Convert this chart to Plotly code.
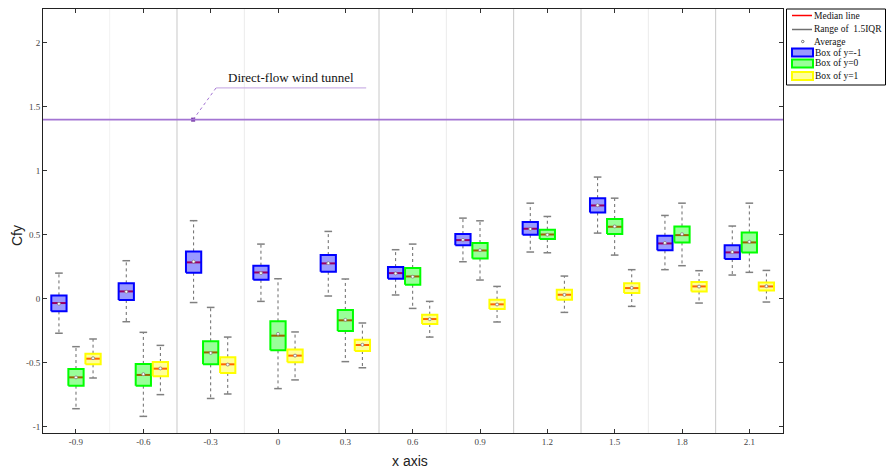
import plotly.graph_objects as go

# ---------------- data ----------------
x_cats = [-0.9, -0.6, -0.3, 0.0, 0.3, 0.6, 0.9, 1.2, 1.5, 1.8, 2.1]
x_labels = ["-0.9", "-0.6", "-0.3", "0", "0.3", "0.6", "0.9", "1.2", "1.5", "1.8", "2.1"]

# y = -1 (blue)
bm1_hi  = [0.20, 0.297, 0.61, 0.427, 0.526, 0.383, 0.63, 0.747, 0.951, 0.651, 0.568]
bm1_q3  = [0.026, 0.12, 0.37, 0.258, 0.341, 0.247, 0.505, 0.599, 0.786, 0.492, 0.417]
bm1_med = [-0.034, 0.057, 0.284, 0.205, 0.276, 0.20, 0.458, 0.547, 0.729, 0.432, 0.362]
bm1_q1  = [-0.099, -0.01, 0.203, 0.148, 0.211, 0.156, 0.417, 0.50, 0.674, 0.378, 0.31]
bm1_lo  = [-0.27, -0.18, -0.03, -0.021, 0.021, 0.029, 0.289, 0.365, 0.513, 0.227, 0.185]
bm1_avg = [-0.040, 0.055, 0.290, 0.200, 0.278, 0.198, 0.460, 0.545, 0.730, 0.436, 0.365]

# y = 0 (green)
b0_hi  = [-0.375, -0.263, -0.068, 0.156, 0.154, 0.427, 0.609, 0.643, 0.786, 0.747, 0.747]
b0_q3  = [-0.55, -0.51, -0.333, -0.177, -0.088, 0.24, 0.435, 0.539, 0.623, 0.565, 0.518]
b0_med = [-0.615, -0.596, -0.42, -0.289, -0.169, 0.174, 0.377, 0.502, 0.5625, 0.497, 0.44]
b0_q1  = [-0.68, -0.68, -0.513, -0.404, -0.253, 0.109, 0.315, 0.466, 0.505, 0.44, 0.362]
b0_lo  = [-0.86, -0.92, -0.78, -0.703, -0.492, -0.076, 0.146, 0.359, 0.341, 0.258, 0.206]
b0_avg = [-0.615, -0.590, -0.425, -0.275, -0.165, 0.172, 0.380, 0.500, 0.565, 0.505, 0.445]

# y = 1 (yellow)
b1_hi  = [-0.315, -0.365, -0.30, -0.26, -0.19, -0.021, 0.096, 0.177, 0.227, 0.219, 0.221]
b1_q3  = [-0.43, -0.495, -0.458, -0.398, -0.32, -0.125, -0.008, 0.07, 0.12, 0.13, 0.127]
b1_med = [-0.469, -0.547, -0.513, -0.445, -0.362, -0.159, -0.044, 0.031, 0.083, 0.096, 0.096]
b1_q1  = [-0.513, -0.607, -0.58, -0.497, -0.409, -0.198, -0.081, -0.008, 0.044, 0.057, 0.065]
b1_lo  = [-0.62, -0.75, -0.745, -0.635, -0.54, -0.30, -0.182, -0.107, -0.06, -0.034, -0.026]
b1_avg = [-0.465, -0.545, -0.515, -0.445, -0.360, -0.160, -0.045, 0.030, 0.085, 0.095, 0.098]

tunnel_value = 1.4
tunnel_label = "Direct-flow wind tunnel"

series = [
    dict(name="Box of y=-1", hi=bm1_hi, q3=bm1_q3, med=bm1_med, q1=bm1_q1, lo=bm1_lo, avg=bm1_avg,
         offset=-0.076, line="#0000FF", fill="rgba(0,0,255,0.40)"),
    dict(name="Box of y=0", hi=b0_hi, q3=b0_q3, med=b0_med, q1=b0_q1, lo=b0_lo, avg=b0_avg,
         offset=0.0, line="#00FF00", fill="rgba(0,255,0,0.40)"),
    dict(name="Box of y=1", hi=b1_hi, q3=b1_q3, med=b1_med, q1=b1_q1, lo=b1_lo, avg=b1_avg,
         offset=0.076, line="#FFFF00", fill="rgba(255,255,0,0.40)"),
]

BOX_W = 0.068
CAP_W = 0.034
SERIF = "Liberation Serif, Times New Roman, serif"
SANS = "Liberation Sans, Arial, sans-serif"

fig = go.Figure()

for s in series:
    wx, wy, cx, cy, mx, my, bx, by, ax, ay = [], [], [], [], [], [], [], [], [], []
    for i, c in enumerate(x_cats):
        xc = c + s["offset"]
        wx += [xc, xc, None, xc, xc, None]
        wy += [s["q3"][i], s["hi"][i], None, s["q1"][i], s["lo"][i], None]
        cx += [xc - CAP_W / 2, xc + CAP_W / 2, None, xc - CAP_W / 2, xc + CAP_W / 2, None]
        cy += [s["hi"][i], s["hi"][i], None, s["lo"][i], s["lo"][i], None]
        mx += [xc - BOX_W / 2, xc + BOX_W / 2, None]
        my += [s["med"][i], s["med"][i], None]
        bx += [xc - BOX_W / 2, xc + BOX_W / 2, xc + BOX_W / 2, xc - BOX_W / 2, xc - BOX_W / 2, None]
        by += [s["q1"][i], s["q1"][i], s["q3"][i], s["q3"][i], s["q1"][i], None]
        ax.append(xc)
        ay.append(s["avg"][i])
    fig.add_trace(go.Scatter(x=wx, y=wy, mode="lines", showlegend=False, hoverinfo="skip",
                             line=dict(color="#6A6A6A", width=1, dash="dot")))
    fig.add_trace(go.Scatter(x=cx, y=cy, mode="lines", showlegend=False, hoverinfo="skip",
                             line=dict(color="#808080", width=1.5)))
    fig.add_trace(go.Scatter(x=mx, y=my, mode="lines", showlegend=False, hoverinfo="skip",
                             line=dict(color="#FF0000", width=2)))
    fig.add_trace(go.Scatter(x=bx, y=by, mode="lines", fill="toself", fillcolor=s["fill"],
                             showlegend=False, name=s["name"],
                             line=dict(color=s["line"], width=2)))
    fig.add_trace(go.Scatter(x=ax, y=ay, mode="markers", showlegend=False,
                             marker=dict(symbol="circle", size=3, color="white",
                                         line=dict(color="#808080", width=0.8))))

# ---------------- separators ----------------
sep_x = [-0.75, -0.45, -0.15, 0.45, 0.75, 1.05, 1.35, 1.65, 1.95]
sep_c = ["#F2F2F2", "#C8C8C8", "#EBEBEB", "#C8C8C8", "#EBEBEB", "#C8C8C8", "#C8C8C8", "#EBEBEB", "#C8C8C8"]
shapes = []
for xs, cc in zip(sep_x, sep_c):
    shapes.append(dict(type="line", xref="x", yref="paper", x0=xs, x1=xs, y0=0, y1=1,
                       line=dict(color=cc, width=1), layer="below"))

PURPLE = "#A374D3"
shapes.append(dict(type="line", xref="paper", yref="y", x0=0, x1=1, y0=tunnel_value, y1=tunnel_value,
                   line=dict(color=PURPLE, width=1.6)))
arrow_tip_x, knee_x, end_x, knee_y = -0.378, -0.276, 0.393, 1.648
shapes.append(dict(type="line", xref="x", yref="y", x0=arrow_tip_x, y0=tunnel_value, x1=knee_x, y1=knee_y,
                   line=dict(color=PURPLE, width=1, dash="dot")))
shapes.append(dict(type="line", xref="x", yref="y", x0=knee_x, y0=knee_y, x1=end_x, y1=knee_y,
                   line=dict(color="#C0A0E0", width=1)))
fig.add_trace(go.Scatter(x=[arrow_tip_x], y=[tunnel_value], mode="markers", showlegend=False,
                         marker=dict(symbol="square", size=4, color="#7030A0")))

annotations = [dict(x=(knee_x + end_x) / 2, y=1.73, xref="x", yref="y", text=tunnel_label,
                    showarrow=False, font=dict(family=SERIF, size=13, color="#111"))]

# ---------------- manual legend ----------------
W, H = 886, 470
ML, MR, MT, MB = 43, 103, 9, 37
PW, PH = W - ML - MR, H - MT - MB


def px(x):
    return (x - ML) / PW


def py(y):
    return (H - MB - y) / PH


shapes.append(dict(type="rect", xref="paper", yref="paper", x0=px(786.5), x1=px(885.5), y0=py(85), y1=py(9),
                   line=dict(color="#000", width=1), fillcolor="white"))
legend_rows = [
    ("Median line", 15.5, "line", "#FF0000", None),
    ("Range of  1.5IQR", 29.5, "line", "#707070", None),
    ("Average", 41.5, "dot", "#707070", None),
    ("Box of y=-1", 52.5, "box", "#0000FF", "rgba(0,0,255,0.40)"),
    ("Box of y=0", 63.5, "box", "#00FF00", "rgba(0,255,0,0.40)"),
    ("Box of y=1", 76, "box", "#FFFF00", "rgba(255,255,0,0.40)"),
]
for text, yy, kind, col, fcol in legend_rows:
    if kind == "line":
        shapes.append(dict(type="line", xref="paper", yref="paper", x0=px(792), x1=px(812), y0=py(yy), y1=py(yy),
                           line=dict(color=col, width=1.5)))
        tx = 812
    elif kind == "dot":
        shapes.append(dict(type="circle", xref="paper", yref="paper", x0=px(801.5), x1=px(804), y0=py(yy + 1.2),
                           y1=py(yy - 1.2), line=dict(color=col, width=1), fillcolor="white"))
        tx = 812
    else:
        shapes.append(dict(type="rect", xref="paper", yref="paper", x0=px(792), x1=px(813), y0=py(yy + 4),
                           y1=py(yy - 4), line=dict(color=col, width=2), fillcolor=fcol))
        tx = 813
    annotations.append(dict(x=px(tx), y=py(yy), xref="paper", yref="paper", text=text, showarrow=False,
                            xanchor="left", yanchor="middle", font=dict(family=SERIF, size=9.5, color="#111")))

# axis titles as annotations (fixed margins)
annotations.append(dict(x=px(17), y=py(236), xref="paper", yref="paper", text="Cfy", textangle=-90,
                        xanchor="center", yanchor="middle",
                        showarrow=False, font=dict(family=SANS, size=14, color="#222")))
annotations.append(dict(x=px(410), y=py(461), xref="paper", yref="paper", text="x axis",
                        xanchor="center", yanchor="middle",
                        showarrow=False, font=dict(family=SANS, size=14, color="#222")))

fig.update_layout(
    width=W, height=H,
    margin=dict(l=ML, r=MR, t=MT, b=MB, autoexpand=False),
    paper_bgcolor="white", plot_bgcolor="white",
    showlegend=False,
    shapes=shapes, annotations=annotations,
    xaxis=dict(range=[-1.047, 2.25], tickmode="array", tickvals=x_cats, ticktext=x_labels,
               showgrid=False, zeroline=False, showline=True, linecolor="#222", linewidth=1, mirror="ticks",
               ticks="inside", ticklen=4, tickcolor="#333", automargin=False,
               tickfont=dict(family=SERIF, size=9, color="#444")),
    yaxis=dict(range=[-1.05, 2.265], tickmode="array", tickvals=[-1, -0.5, 0, 0.5, 1, 1.5, 2],
               ticktext=["-1", "-0.5", "0", "0.5", "1", "1.5", "2"],
               showgrid=False, zeroline=False, showline=True, linecolor="#222", linewidth=1, mirror="ticks",
               ticks="inside", ticklen=4, tickcolor="#333", automargin=False,
               tickfont=dict(family=SERIF, size=9, color="#444")),
)

fig.write_html("out.html", config={"displayModeBar": False},
               post_script="document.body.style.margin='0px';document.body.style.padding='0px';")
